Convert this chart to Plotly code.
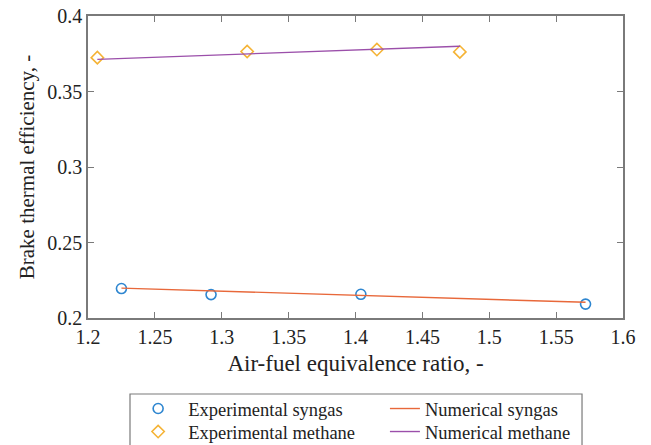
import plotly.graph_objects as go

# Brake thermal efficiency vs air-fuel equivalence ratio
syngas_lambda = [1.225, 1.292, 1.404, 1.572]
syngas_exp = [0.2195, 0.2155, 0.2157, 0.2092]
syngas_num = [0.2198, 0.2180, 0.2150, 0.2104]

methane_lambda = [1.207, 1.319, 1.416, 1.478]
methane_exp = [0.3724, 0.3765, 0.3778, 0.3762]
methane_num = [0.3713, 0.3750, 0.3778, 0.3800]

x_ticks = [1.2, 1.25, 1.3, 1.35, 1.4, 1.45, 1.5, 1.55, 1.6]
x_ticktext = ["1.2", "1.25", "1.3", "1.35", "1.4", "1.45", "1.5", "1.55", "1.6"]
y_ticks = [0.2, 0.25, 0.3, 0.35, 0.4]
y_ticktext = ["0.2", "0.25", "0.3", "0.35", "0.4"]

BLUE = "#2E86D0"
ORANGE = "#E8683A"
YELLOW = "#F5B335"
PURPLE = "#9B4FAA"
FONT = "Liberation Serif"
TXT = "#222222"
AX = "#7a7a7a"

fig = go.Figure()
fig.add_trace(go.Scatter(
    x=syngas_lambda, y=syngas_exp, mode="markers", name="Experimental syngas",
    marker=dict(symbol="circle-open", size=10, color=BLUE, line=dict(width=1.6, color=BLUE)),
    legend="legend", showlegend=True))
fig.add_trace(go.Scatter(
    x=syngas_lambda, y=syngas_num, mode="lines", name="Numerical syngas",
    line=dict(color=ORANGE, width=1.4), legend="legend2", showlegend=True))
fig.add_trace(go.Scatter(
    x=methane_lambda, y=methane_exp, mode="markers", name="Experimental methane",
    marker=dict(symbol="diamond-open", size=9.5, color=YELLOW, line=dict(width=1.6, color=YELLOW)),
    legend="legend3", showlegend=True))
fig.add_trace(go.Scatter(
    x=methane_lambda, y=methane_num, mode="lines", name="Numerical methane",
    line=dict(color=PURPLE, width=1.4), legend="legend4", showlegend=True))

axis_common = dict(
    showline=True, linecolor=AX, linewidth=1.5, mirror="ticks",
    ticks="inside", ticklen=6, tickcolor=AX, tickwidth=1.2,
    showgrid=False, zeroline=False,
    tickfont=dict(family=FONT, size=20, color=TXT),
)

# legend boxes: two columns x two rows below the axes
ROW1, ROW2 = -0.3013, -0.3775
COL1, COL2 = 0.075, 0.555


def legend_box(x, y, itemwidth):
    return dict(x=x, y=y, xanchor="left", yanchor="middle", orientation="v",
                itemwidth=itemwidth, bgcolor="rgba(0,0,0,0)",
                font=dict(family=FONT, size=18.5, color=TXT))


fig.update_layout(
    width=651, height=445,
    showlegend=True,
    margin=dict(l=88, r=28, t=16, b=127, autoexpand=False),
    plot_bgcolor="white", paper_bgcolor="white",
    font=dict(family=FONT, color=TXT),
    xaxis=dict(range=[1.2, 1.6], tickvals=x_ticks, ticktext=x_ticktext,
               title=dict(text="Air-fuel equivalence ratio, -",
                          font=dict(family=FONT, size=23, color=TXT), standoff=8),
               **axis_common),
    yaxis=dict(range=[0.2, 0.4], tickvals=y_ticks, ticktext=y_ticktext,
               title=dict(text="Brake thermal efficiency, -",
                          font=dict(family=FONT, size=21, color=TXT), standoff=7),
               **axis_common),
    legend=legend_box(COL1, ROW1, 50),
    legend2=legend_box(COL2, ROW1, 30),
    legend3=legend_box(COL1, ROW2, 50),
    legend4=legend_box(COL2, ROW2, 30),
    shapes=[dict(type="rect", xref="paper", yref="paper",
                 x0=0.0785, x1=0.9234, y0=-0.2517, y1=-0.47,
                 line=dict(color=AX, width=1.2), fillcolor="rgba(0,0,0,0)")],
)

fig.write_html("out.html")
